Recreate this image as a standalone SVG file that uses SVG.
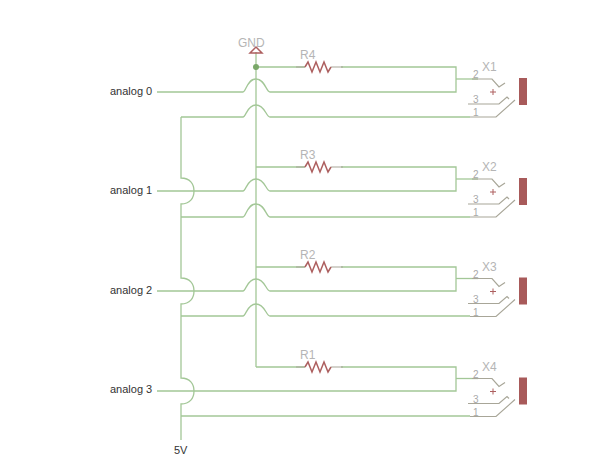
<svg xmlns="http://www.w3.org/2000/svg" xmlns:xlink="http://www.w3.org/1999/xlink" width="600" height="467" viewBox="0 0 600 467">
<style>
.w{fill:none;stroke:#a3c797;stroke-width:1.3}
.p{fill:none;stroke:#a8a698;stroke-width:1.2}
.r{fill:none;stroke:#ad5f5f;stroke-width:1.5}
.g{font-family:"Liberation Sans",Arial,sans-serif;font-size:12px;fill:#b5b5b5}
.s{font-family:"Liberation Sans",Arial,sans-serif;font-size:10px;fill:#a9a9a9}
.t{font-family:"Liberation Sans",Arial,sans-serif;font-size:11px;fill:#333}
</style>
<defs>
<g id="jack">
<path class="w" d="M456 79H478"/>
<path class="p" d="M472 79H492L499 87L505 83"/>
<path class="p" d="M468 104H499L507 97L509 99"/>
<path class="p" d="M470 117H496L515 100"/>
<rect x="519" y="78" width="8" height="27" fill="#a85a5a"/>
<path d="M490 92H496M493 89V95" fill="none" stroke="#ad5f5f" stroke-width="1"/>
<text class="s" x="473" y="78">2</text>
<text class="s" x="473" y="103">3</text>
<text class="s" x="473" y="116">1</text>
</g>
<path id="res" class="r" d="M305 67L308 62L312 72L316 62L320 72L324 62L328 72L331 67"/>
</defs>
<g id="connectors">
<path class="w" d="M181 117V178C190 178 194 184 194 191C194 198 190 204 181 204V278C190 278 194 284 194 291C194 298 190 304 181 304V378C190 378 194 384 194 391C194 398 190 404 181 404V440"/>
<path class="w" d="M256 52V367"/>
<path class="w" d="M157 92H243C246 92 247 79 256 79C265 79 266 92 270 92H456V67H341M305 67H256"/>
<path class="w" d="M181 117H243C246 117 247 105 256 105C265 105 266 117 270 117H470"/>
<path class="w" d="M157 191H243C246 191 247 179 256 179C265 179 266 191 270 191H456V167H341M305 167H256"/>
<path class="w" d="M181 217H243C246 217 247 204 256 204C265 204 266 217 270 217H470"/>
<path class="w" d="M157 291H243C246 291 247 279 256 279C265 279 266 291 270 291H456V267H341M305 267H256"/>
<path class="w" d="M181 316H243C246 316 247 304 256 304C265 304 266 316 270 316H470"/>
<path class="w" d="M157 391H456V367H341M305 367H256"/>
<path class="w" d="M181 416H470"/>
<circle cx="256" cy="67" r="3" fill="#7aa868"/>
</g>
<g id="gnd"><path class="r" d="M256 47L262 53H250Z"/><text class="g" x="238" y="47">GND</text></g>
<g id="R4"><path class="p" d="M296 67H305M331 67H343"/><use xlink:href="#res"/><text class="g" x="300" y="59">R4</text></g>
<g id="R3" transform="translate(0,100)"><path class="p" d="M296 67H305M331 67H343"/><use xlink:href="#res"/><text class="g" x="300" y="59">R3</text></g>
<g id="R2" transform="translate(0,200)"><path class="p" d="M296 67H305M331 67H343"/><use xlink:href="#res"/><text class="g" x="300" y="59">R2</text></g>
<g id="R1" transform="translate(0,300)"><path class="p" d="M296 67H305M331 67H343"/><use xlink:href="#res"/><text class="g" x="300" y="59">R1</text></g>
<g id="X1"><use xlink:href="#jack"/><text class="g" x="482" y="71">X1</text></g>
<g id="X2" transform="translate(0,100)"><use xlink:href="#jack"/><text class="g" x="482" y="71">X2</text></g>
<g id="X3" transform="translate(0,199.500)"><use xlink:href="#jack"/><text class="g" x="482" y="71">X3</text></g>
<g id="X4" transform="translate(0,299.500)"><use xlink:href="#jack"/><text class="g" x="482" y="71">X4</text></g>
<g id="analog0"><text class="t" x="110" y="95">analog 0</text></g>
<g id="analog1"><text class="t" x="110" y="194">analog 1</text></g>
<g id="analog2"><text class="t" x="110" y="294">analog 2</text></g>
<g id="analog3"><text class="t" x="110" y="393">analog 3</text></g>
<g id="v5"><text class="t" x="174" y="454">5V</text></g>
</svg>
